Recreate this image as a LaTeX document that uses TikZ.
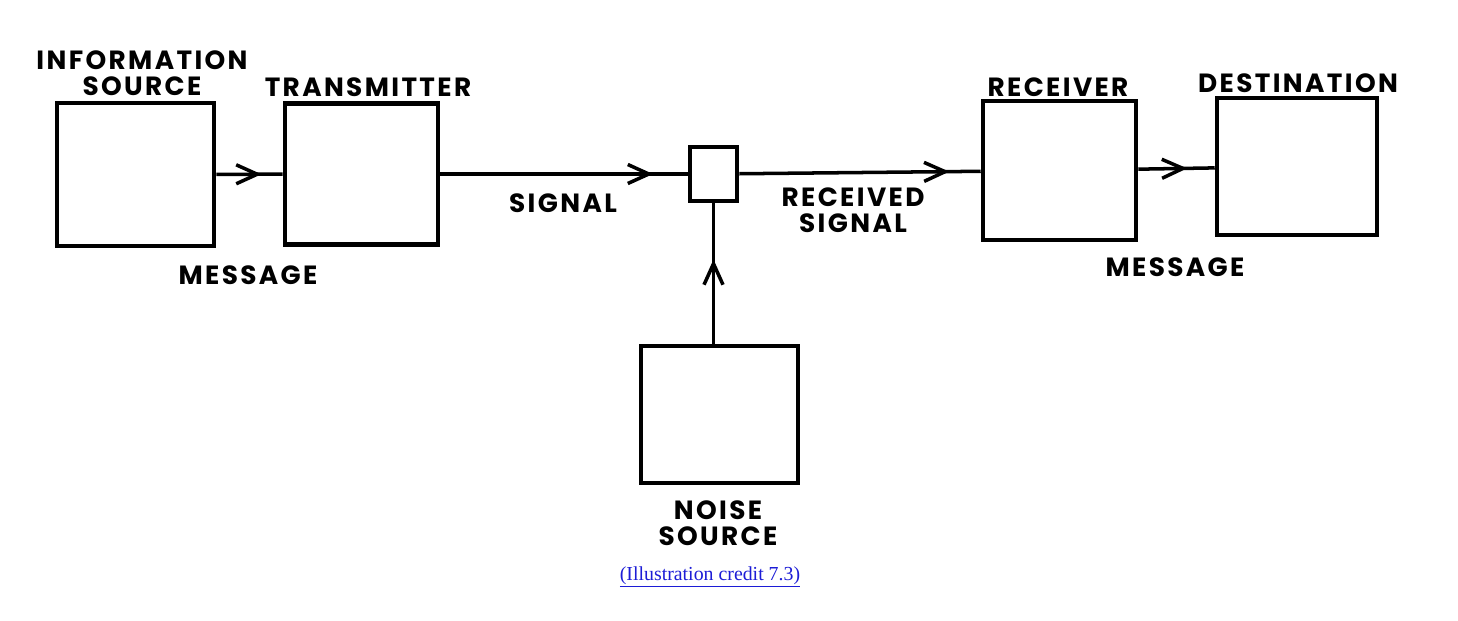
\documentclass[tikz,border=0pt]{standalone}
\usepackage{fontspec}
\usepackage{xcolor}
\usepackage{tikz}
\usetikzlibrary{arrows.meta, positioning, decorations.markings}

\newfontfamily\letterfont{Poppins}[LetterSpace=9]
\newfontfamily\creditfont{Liberation Serif}
\definecolor{creditblue}{RGB}{28,28,214}

\begin{document}
\begin{tikzpicture}[
  x=0.02cm, y=-0.02cm,
  font=\letterfont\fontsize{15}{15}\selectfont\bfseries,
  block/.style={draw, line width=2.6pt, inner sep=0pt},
  lbl/.style={align=center, inner sep=0pt},
  link/.style={line width=2pt, postaction={decorate},
    decoration={markings, mark=at position #1 with {\arrow{Straight Barb[length=4.2mm, width=3.8mm]}}}},
]
\useasboundingbox (0,0) rectangle (1458,620);
% blocks
\node[block, minimum width=3.14cm, minimum height=2.86cm] (src) at (135.5,174.5) {};
\node[block, minimum width=3.06cm, minimum height=2.82cm] (tx) at (361.5,174) {};
\node[block, minimum width=0.94cm, minimum height=1.08cm] (mix) at (713.5,174) {};
\node[block, minimum width=3.06cm, minimum height=2.78cm] (rx) at (1059.5,170.5) {};
\node[block, minimum width=3.2cm, minimum height=2.74cm] (dst) at (1297,166.5) {};
\node[block, minimum width=3.14cm, minimum height=2.74cm] (noise) at (719.5,414.5) {};
% block names
\node[lbl] (srcname) at (142,73) {INFORMATION\\SOURCE};
\node[lbl] (txname) at (368,87) {TRANSMITTER};
\node[lbl] (rxname) at (1058,87) {RECEIVER};
\node[lbl] (dstname) at (1298,83) {DESTINATION};
\node[lbl] (noisename) at (718,523) {NOISE\\SOURCE};
% signal names
\node[lbl] (msg1) at (248,275) {MESSAGE};
\node[lbl] (sig) at (563,203) {SIGNAL};
\node[lbl] (rsig) at (853,210) {RECEIVED\\SIGNAL};
\node[lbl] (msg2) at (1175,267) {MESSAGE};
% connectors
\draw[link=0.68] (src) -- (tx);
\draw[link=0.86] (tx) -- (mix);
\draw[link=0.87] (mix) -- (rx);
\draw[link=0.64] (rx) -- (dst);
\draw[link=0.6] (noise.north -| mix.south) -- (mix.south);
% credit line
\node[inner sep=0pt, font=\creditfont\fontsize{11.3}{13}\selectfont, text=creditblue] (credit) at (710,577) {\underline{(Illustration credit 7.3)}};
\end{tikzpicture}
\end{document}
